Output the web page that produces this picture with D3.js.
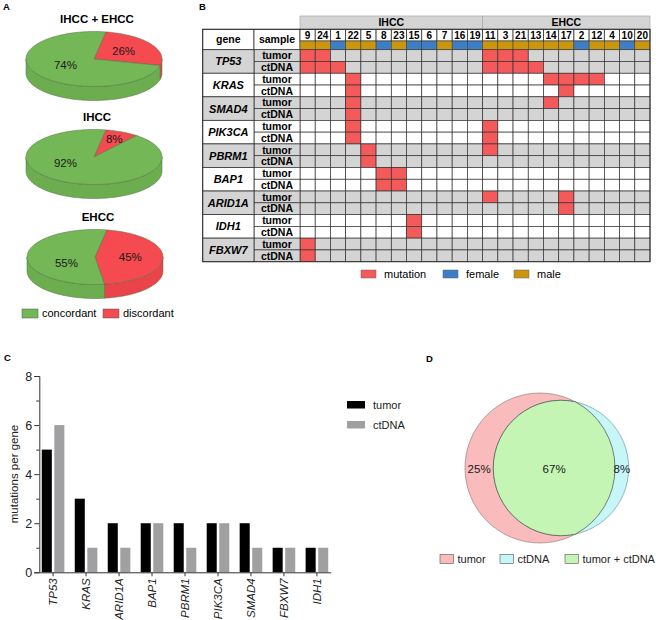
<!DOCTYPE html>
<html><head><meta charset="utf-8">
<script src="https://cdn.jsdelivr.net/npm/d3@7"></script>
<style>body{margin:0;background:#fff}svg{display:block;font-family:"Liberation Sans",Arial,sans-serif}</style>
</head><body>
<svg id="c" width="656" height="620"></svg>
<script>
// ---------- DATA ----------
const pieTitles = ["IHCC + EHCC", "IHCC", "EHCC"];
const pieDiscordant = [26, 8, 45];
const pieConcordant = [74, 92, 55];
const pieLegend = ["concordant", "discordant"];

const patients = ["9","24","1","22","5","8","23","15","6","7","16","19","11","3","21","13","14","17","2","12","4","10","20"];
const patientGroup = ["IHCC","IHCC","IHCC","IHCC","IHCC","IHCC","IHCC","IHCC","IHCC","IHCC","IHCC","IHCC","EHCC","EHCC","EHCC","EHCC","EHCC","EHCC","EHCC","EHCC","EHCC","EHCC","EHCC"];
const patientSex = ["male","male","female","male","male","female","male","female","female","male","female","female","male","male","male","male","male","male","female","male","male","female","male"];
const heatGenes = ["TP53","KRAS","SMAD4","PIK3CA","PBRM1","BAP1","ARID1A","IDH1","FBXW7"];
const sampleTypes = ["tumor","ctDNA"];
const mutTumor = {TP53:["9","24","11","3","21"], KRAS:["22","14","17","2","12"], SMAD4:["22","14"], PIK3CA:["22","11"], PBRM1:["5","11"], BAP1:["8","23"], ARID1A:["11","17"], IDH1:["15"], FBXW7:["9"]};
const mutCtDNA = {TP53:["9","24","1","11","3","21","13"], KRAS:["22","17"], SMAD4:["22"], PIK3CA:["22","11"], PBRM1:["5"], BAP1:["8","23"], ARID1A:["17"], IDH1:["15"], FBXW7:["9"]};
const heatLegend = ["mutation","female","male"];

const barGenes = ["TP53","KRAS","ARID1A","BAP1","PBRM1","PIK3CA","SMAD4","FBXW7","IDH1"];
const barTumor = [5,3,2,2,2,2,2,1,1];
const barCtDNA = [6,1,1,2,1,2,1,1,1];
const barYTicks = [0,2,4,6,8];

const vennLabels = ["tumor","ctDNA","tumor + ctDNA"];
const vennValues = [25, 8, 67];

// ---------- SETUP ----------
const svg = d3.select("#c");
const FONT = '"Liberation Sans",Arial,sans-serif';
function panelLabel(t,x,y){svg.append("text").attr("x",x).attr("y",y).attr("font-size",9.5).attr("font-weight","bold").text(t);}
panelLabel("A",3,10); panelLabel("B",199,10); panelLabel("C",4,361); panelLabel("D",426,362);

// ---------- PANEL A : 3D pies ----------
const pieColors = {concordant:"#74b757", discordant:"#f54a50"};
const sideColors = {concordant:"#6cae4f", discordant:"#ea434a"};
const pieGeom = [{cx:94,cy:59},{cx:94,cy:157},{cx:95,cy:257}];
const RX=68, RY=27.5, DEPTH=14;
const pt=(c,a,dy=0)=>[c.cx+RX*Math.sin(a), c.cy-RY*Math.cos(a)+dy];
function arcPoints(c,a0,a1,dy){const n=Math.max(2,Math.ceil((a1-a0)/0.03));return d3.range(n+1).map(i=>pt(c,a0+(a1-a0)*i/n,dy));}
const line=d3.line();
const pieGen=d3.pie().sort(null).value(d=>d.v).startAngle(10*Math.PI/180).endAngle(10*Math.PI/180+2*Math.PI);
pieTitles.forEach((title,i)=>{
  const c=pieGeom[i];
  const g=svg.append("g");
  g.append("text").attr("x",c.cx+3).attr("y",c.cy-RY-9).attr("text-anchor","middle").attr("font-size",11.5).attr("font-weight","bold").text(title);
  const arcs=pieGen([{k:"discordant",v:pieDiscordant[i]},{k:"concordant",v:pieConcordant[i]}]);
  arcs.forEach(a=>{
    [0,1].forEach(k=>{
      const s=Math.max(a.startAngle,Math.PI/2+2*Math.PI*k), e=Math.min(a.endAngle,3*Math.PI/2+2*Math.PI*k);
      if(e>s){
        const pts=arcPoints(c,s,e,0).concat(arcPoints(c,s,e,DEPTH).reverse());
        g.append("path").attr("d",line(pts)+"Z").attr("fill",sideColors[a.data.k]).attr("stroke","#4f6e43").attr("stroke-width",0.5);
      }
    });
  });
  arcs.forEach(a=>{
    const pts=[[c.cx,c.cy]].concat(arcPoints(c,a.startAngle,a.endAngle,0));
    g.append("path").attr("d",line(pts)+"Z").attr("fill",pieColors[a.data.k]).attr("stroke","#4f6e43").attr("stroke-width",0.5);
  });
  arcs.forEach(a=>{
    const span=a.endAngle-a.startAngle;
    let x,y;
    if(span>Math.PI){ // large slice: label on the left side
      x=c.cx-RX*0.42; y=c.cy+6;
    } else {
      const mid=(a.startAngle+a.endAngle)/2, f=span<0.8?0.72:0.52;
      x=c.cx+RX*f*Math.sin(mid); y=c.cy-RY*f*Math.cos(mid);
    }
    g.append("text").attr("x",x).attr("y",y).attr("dy","0.35em").attr("text-anchor","middle").attr("font-size",11.5).attr("fill","#1a1a1a").text(a.data.v+"%");
  });
});
const legA=svg.append("g");
pieLegend.forEach((k,i)=>{
  const x=22+i*81;
  legA.append("rect").attr("x",x).attr("y",309).attr("width",16).attr("height",9).attr("fill",pieColors[k]).attr("stroke","#555").attr("stroke-width",0.5);
  legA.append("text").attr("x",x+20).attr("y",313.5).attr("dy","0.35em").attr("font-size",11).text(k);
});

// ---------- PANEL B : heatmap ----------
const hx=d3.scaleBand().domain(patients).range([300,650]);
const rowKeys=heatGenes.flatMap(g=>sampleTypes.map(s=>g+"|"+s));
const hy=d3.scaleBand().domain(rowKeys).range([49.7,261.7]);
const GX0=202.7, GX1=254, SX1=300;
const HY0=29.3, HY1=41, HY2=49.7, TOP=16;
const grey="#d4d4d4", red="#f55a5a", blue="#3d7ec4", gold="#c9960e", lineC="#333";
const sexColor={female:blue, male:gold};
const hb=svg.append("g").attr("font-weight","bold");
["IHCC","EHCC"].forEach(gr=>{
  const cols=patients.filter((p,i)=>patientGroup[i]===gr);
  const x0=hx(cols[0]), x1=hx(cols[cols.length-1])+hx.bandwidth();
  hb.append("rect").attr("x",x0).attr("y",TOP).attr("width",x1-x0).attr("height",HY0-TOP).attr("fill",grey).attr("stroke","#a8a8a8").attr("stroke-width",0.7);
  hb.append("text").attr("x",(x0+x1)/2).attr("y",(TOP+HY0)/2).attr("dy","0.36em").attr("text-anchor","middle").attr("font-size",10.5).text(gr);
});
hb.append("rect").attr("x",GX0).attr("y",HY0).attr("width",GX1-GX0).attr("height",HY2-HY0).attr("fill","#fff").attr("stroke",lineC).attr("stroke-width",0.8);
hb.append("rect").attr("x",GX1).attr("y",HY0).attr("width",SX1-GX1).attr("height",HY2-HY0).attr("fill","#fff").attr("stroke",lineC).attr("stroke-width",0.8);
hb.append("text").attr("x",(GX0+GX1)/2).attr("y",(HY0+HY2)/2).attr("dy","0.36em").attr("text-anchor","middle").attr("font-size",10.5).text("gene");
hb.append("text").attr("x",(GX1+SX1)/2).attr("y",(HY0+HY2)/2).attr("dy","0.36em").attr("text-anchor","middle").attr("font-size",10.5).text("sample");
patients.forEach((p,i)=>{
  hb.append("rect").attr("x",hx(p)).attr("y",HY0).attr("width",hx.bandwidth()).attr("height",HY1-HY0).attr("fill","#fff").attr("stroke",lineC).attr("stroke-width",0.8);
  hb.append("text").attr("x",hx(p)+hx.bandwidth()/2).attr("y",(HY0+HY1)/2).attr("dy","0.37em").attr("text-anchor","middle").attr("font-size",10).text(p);
  hb.append("rect").attr("x",hx(p)).attr("y",HY1).attr("width",hx.bandwidth()).attr("height",HY2-HY1).attr("fill",sexColor[patientSex[i]]).attr("stroke",lineC).attr("stroke-width",0.5);
});
heatGenes.forEach((g,gi)=>{
  const bg = gi%2===0?grey:"#fff";
  const y0=hy(g+"|tumor"), y1=hy(g+"|ctDNA")+hy.bandwidth();
  sampleTypes.forEach(s=>{
    const muts = s==="tumor"?mutTumor[g]:mutCtDNA[g];
    const key=g+"|"+s;
    patients.forEach(p=>{
      hb.append("rect").attr("x",hx(p)).attr("y",hy(key)).attr("width",hx.bandwidth()).attr("height",hy.bandwidth())
        .attr("fill",muts.includes(p)?red:bg).attr("stroke",lineC).attr("stroke-width",0.7);
    });
    hb.append("rect").attr("x",GX1).attr("y",hy(key)).attr("width",SX1-GX1).attr("height",hy.bandwidth()).attr("fill",bg).attr("stroke",lineC).attr("stroke-width",0.7);
    hb.append("text").attr("x",(GX1+SX1)/2).attr("y",hy(key)+hy.bandwidth()/2).attr("dy","0.36em").attr("text-anchor","middle").attr("font-size",10.5).text(s);
  });
  hb.append("rect").attr("x",GX0).attr("y",y0).attr("width",GX1-GX0).attr("height",y1-y0).attr("fill",bg).attr("stroke",lineC).attr("stroke-width",0.8);
  hb.append("text").attr("x",(GX0+GX1)/2).attr("y",(y0+y1)/2).attr("dy","0.36em").attr("text-anchor","middle").attr("font-size",11).attr("font-style","italic").text(g);
});
hb.append("rect").attr("x",GX0).attr("y",HY0).attr("width",650-GX0).attr("height",261.7-HY0).attr("fill","none").attr("stroke",lineC).attr("stroke-width",1);
const legBColors={mutation:red,female:blue,male:gold};
const legBX=[361,443,514];
heatLegend.forEach((k,i)=>{
  svg.append("rect").attr("x",legBX[i]).attr("y",270).attr("width",15).attr("height",8).attr("fill",legBColors[k]).attr("stroke","#666").attr("stroke-width",0.5);
  svg.append("text").attr("x",legBX[i]+23).attr("y",274).attr("dy","0.36em").attr("font-size",11).text(k);
});

// ---------- PANEL C : bar chart ----------
const bx0=d3.scaleBand().domain(barGenes).range([39.3,330.7]).paddingInner(0.315).paddingOuter(0.075);
const bx1=d3.scaleBand().domain(["tumor","ctDNA"]).range([0,bx0.bandwidth()]).paddingInner(0.2);
const by=d3.scaleLinear().domain([0,8]).range([572.3,376]);
const barColors={tumor:"#000",ctDNA:"#a0a0a3"};
const cg=svg.append("g");
barGenes.forEach((g,i)=>{
  [["tumor",barTumor[i]],["ctDNA",barCtDNA[i]]].forEach(([s,v])=>{
    cg.append("rect").attr("x",bx0(g)+bx1(s)).attr("y",by(v)).attr("width",bx1.bandwidth()).attr("height",by(0)-by(v)).attr("fill",barColors[s]);
  });
});
const yAxis=cg.append("g").attr("transform","translate(39.3,0)").call(d3.axisLeft(by).tickValues(barYTicks).tickSize(5).tickPadding(2).tickFormat(d3.format("d")));
cg.append("g").attr("transform","translate(39.3,0)").call(d3.axisLeft(by).tickValues([1,3,5,7]).tickSize(3).tickFormat("")).select(".domain").remove();
yAxis.selectAll("text").attr("font-size",12.5).attr("font-family",FONT).attr("fill","#222");
const xAxis=cg.append("g").attr("transform","translate(0,572.3)").call(d3.axisBottom(bx0).tickSize(4).tickSizeOuter(0));
xAxis.selectAll("text").attr("font-size",11.5).attr("font-family",FONT).attr("font-style","italic").attr("fill","#222")
  .attr("transform","rotate(-90)").attr("text-anchor","end").attr("x",-6).attr("y",0).attr("dy","0.35em");
cg.selectAll(".domain, .tick line").attr("stroke","#333");
cg.append("text").attr("transform","translate(18,474) rotate(-90)").attr("text-anchor","middle").attr("font-size",11.5).attr("fill","#222").text("mutations per gene");
sampleTypes.forEach((s,i)=>{
  cg.append("rect").attr("x",347).attr("y",401+i*20).attr("width",18).attr("height",7.5).attr("fill",barColors[s]);
  cg.append("text").attr("x",373).attr("y",405+i*20).attr("dy","0.36em").attr("font-size",11).attr("fill","#222").text(s);
});

// ---------- PANEL D : Venn ----------
const tumorTotal=vennValues[0]+vennValues[2], ctTotal=vennValues[1]+vennValues[2];
const vr=d3.scaleSqrt().domain([0,tumorTotal]).range([0,75]);
const r1=vr(tumorTotal), r2=vr(ctTotal);
const unitArea=Math.PI*r1*r1/tumorTotal, targetOverlap=vennValues[2]*unitArea;
function lensArea(d){
  if(d>=r1+r2) return 0;
  if(d<=Math.abs(r1-r2)) return Math.PI*Math.min(r1,r2)**2;
  const a1=Math.acos((d*d+r1*r1-r2*r2)/(2*d*r1)), a2=Math.acos((d*d+r2*r2-r1*r1)/(2*d*r2));
  return r1*r1*(a1-Math.sin(2*a1)/2)+r2*r2*(a2-Math.sin(2*a2)/2);
}
let lo=Math.abs(r1-r2), hi=r1+r2;
for(let k=0;k<60;k++){const m=(lo+hi)/2; if(lensArea(m)>targetOverlap) lo=m; else hi=m;}
const dist=(lo+hi)/2;
const c1x=465+r1, cy=468, c2x=c1x+dist;
const ax=(dist*dist+r1*r1-r2*r2)/(2*dist), hh=Math.sqrt(r1*r1-ax*ax);
const ix=c1x+ax, iyT=cy-hh, iyB=cy+hh;
const vColors={tumor:"#f9bbbb", ctDNA:"#c7f6f9", both:"#c4f5b5"};
const dg=svg.append("g");
dg.append("circle").attr("cx",c1x).attr("cy",cy).attr("r",r1).attr("fill",vColors.tumor).attr("stroke","#8c6f6f").attr("stroke-width",0.6);
dg.append("circle").attr("cx",c2x).attr("cy",cy).attr("r",r2).attr("fill",vColors.ctDNA).attr("stroke","#5f8a8c").attr("stroke-width",0.6);
const large2 = (ax-dist)>0?1:0, large1 = ax<0?1:0;
dg.append("path").attr("d",`M${ix},${iyT}A${r2},${r2} 0 ${large2} 0 ${ix},${iyB}A${r1},${r1} 0 ${large1} 0 ${ix},${iyT}Z`)
  .attr("fill",vColors.both).attr("stroke","#4a4a4a").attr("stroke-width",0.7);
const lensL=c2x-r2, lensR=c1x+r1;
const vPos=[(c1x-r1+lensL)/2,(c2x+r2+lensR)/2,(lensL+lensR)/2];
vennValues.forEach((v,i)=>{
  dg.append("text").attr("x",vPos[i]).attr("y",cy+1).attr("dy","0.35em").attr("text-anchor","middle").attr("font-size",11.5).attr("fill","#1a1a1a").text(v+"%");
});
const vLegX=[440,500,565], vLegC=[vColors.tumor,vColors.ctDNA,vColors.both];
vennLabels.forEach((t,i)=>{
  dg.append("rect").attr("x",vLegX[i]).attr("y",554.5).attr("width",13.5).attr("height",9).attr("fill",vLegC[i]).attr("stroke","#555").attr("stroke-width",0.6);
  dg.append("text").attr("x",vLegX[i]+17.5).attr("y",559).attr("dy","0.36em").attr("font-size",11).attr("fill","#222").text(t);
});
</script>
</body></html>
